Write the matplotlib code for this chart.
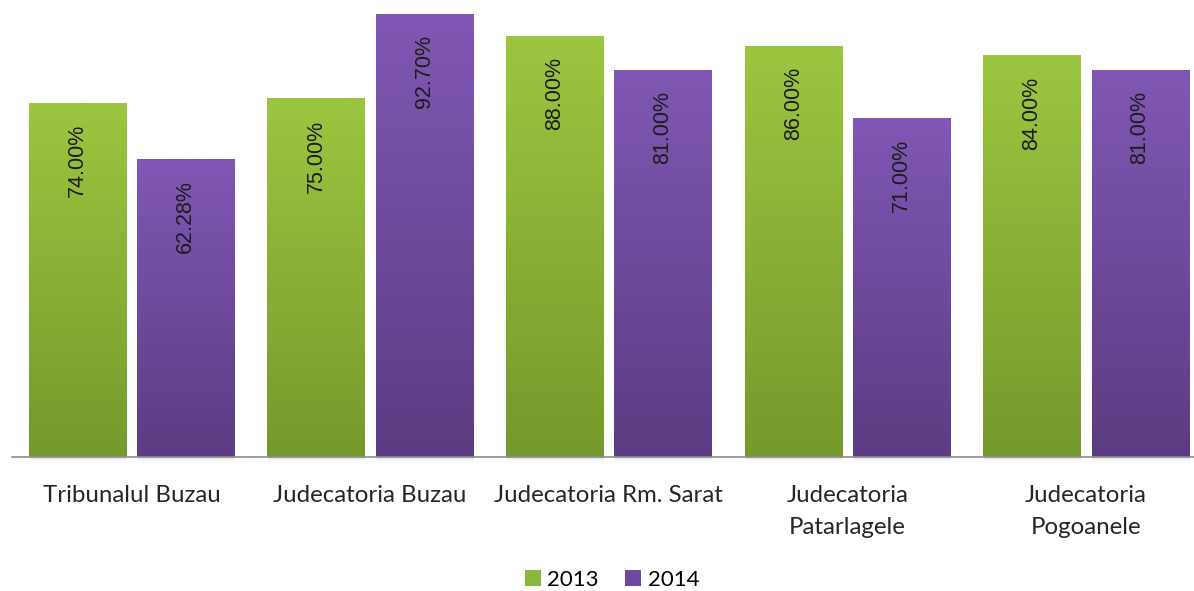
import numpy as np
import matplotlib.pyplot as plt
from matplotlib.patches import Patch
from matplotlib.colors import LinearSegmentedColormap

categorii = ['Tribunalul Buzau', 'Judecatoria Buzau', 'Judecatoria Rm. Sarat',
             'Judecatoria\nPatarlagele', 'Judecatoria\nPogoanele']
val_2013 = [74.00, 75.00, 88.00, 86.00, 84.00]
val_2014 = [62.28, 92.70, 81.00, 71.00, 81.00]

# culori gradient (sus -> jos)
verde = ['#9cc640', '#76992c']
mov = ['#8057b4', '#5c3c82']

fig = plt.figure(figsize=(11.94, 5.91), dpi=100)
ax = fig.add_axes([0.0102, 0.2267, 0.9992, 0.809])

x = np.arange(len(categorii))
w = 0.407
off = 0.227

def bare_gradient(xs, vals, cols):
    cmap = LinearSegmentedColormap.from_list('g', [cols[1], cols[0]])
    grad = np.linspace(0, 1, 256).reshape(-1, 1)
    bars = ax.bar(xs, vals, width=w, color='none', edgecolor='none', zorder=2)
    for b in bars:
        x0, wd, h = b.get_x(), b.get_width(), b.get_height()
        # umbra usoara sub bara
        for k, a in enumerate([0.10, 0.06, 0.03]):
            ax.add_patch(plt.Rectangle((x0 + 0.004, -0.35 - 0.35 * k), wd, 0.35 + 0.35 * k,
                                       facecolor='#808080', alpha=a, edgecolor='none',
                                       zorder=1, clip_on=False))
        im = ax.imshow(grad, cmap=cmap, extent=(x0, x0 + wd, 0, h), origin='lower',
                       aspect='auto', zorder=2, interpolation='bilinear')
        im.set_clip_path(b)
    return bars

b1 = bare_gradient(x - off, val_2013, verde)
b2 = bare_gradient(x + off, val_2014, mov)

for xs, vals in [(x - off, val_2013), (x + off, val_2014)]:
    for xi, v in zip(xs, vals):
        ax.text(xi, v - 4.4, '%.2f%%' % v, rotation=90, ha='center', va='top',
                fontsize=15.5, family='Liberation Sans', color='#1c1c1c', zorder=3)

ax.set_xlim(-0.5, len(categorii) - 0.5)
ax.set_ylim(0, 100)
for s in ['top', 'right', 'left']:
    ax.spines[s].set_visible(False)
ax.spines['bottom'].set_color('#8c8c8c')
ax.spines['bottom'].set_linewidth(1.2)
ax.spines['bottom'].set_zorder(4)
ax.set_yticks([])
ax.set_xticks(x)
ax.set_xticklabels(categorii, fontsize=17.3, family='Lato', color='#262626',
                   linespacing=1.68)
ax.tick_params(axis='x', length=0, pad=20)
for lbl in ax.get_xticklabels():
    lbl.set_verticalalignment('top')

handles = [Patch(facecolor='#8ab83a', label='2013'), Patch(facecolor='#6c48a0', label='2014')]
fig.legend(handles=handles, loc='center', bbox_to_anchor=(612 / 1194, 1 - 580 / 591),
           ncol=2, frameon=False, prop={'family': 'Lato', 'size': 16},
           handlelength=0.7, handleheight=0.7, handletextpad=0.3, columnspacing=1.2)

fig.savefig('out.png', dpi=100)
